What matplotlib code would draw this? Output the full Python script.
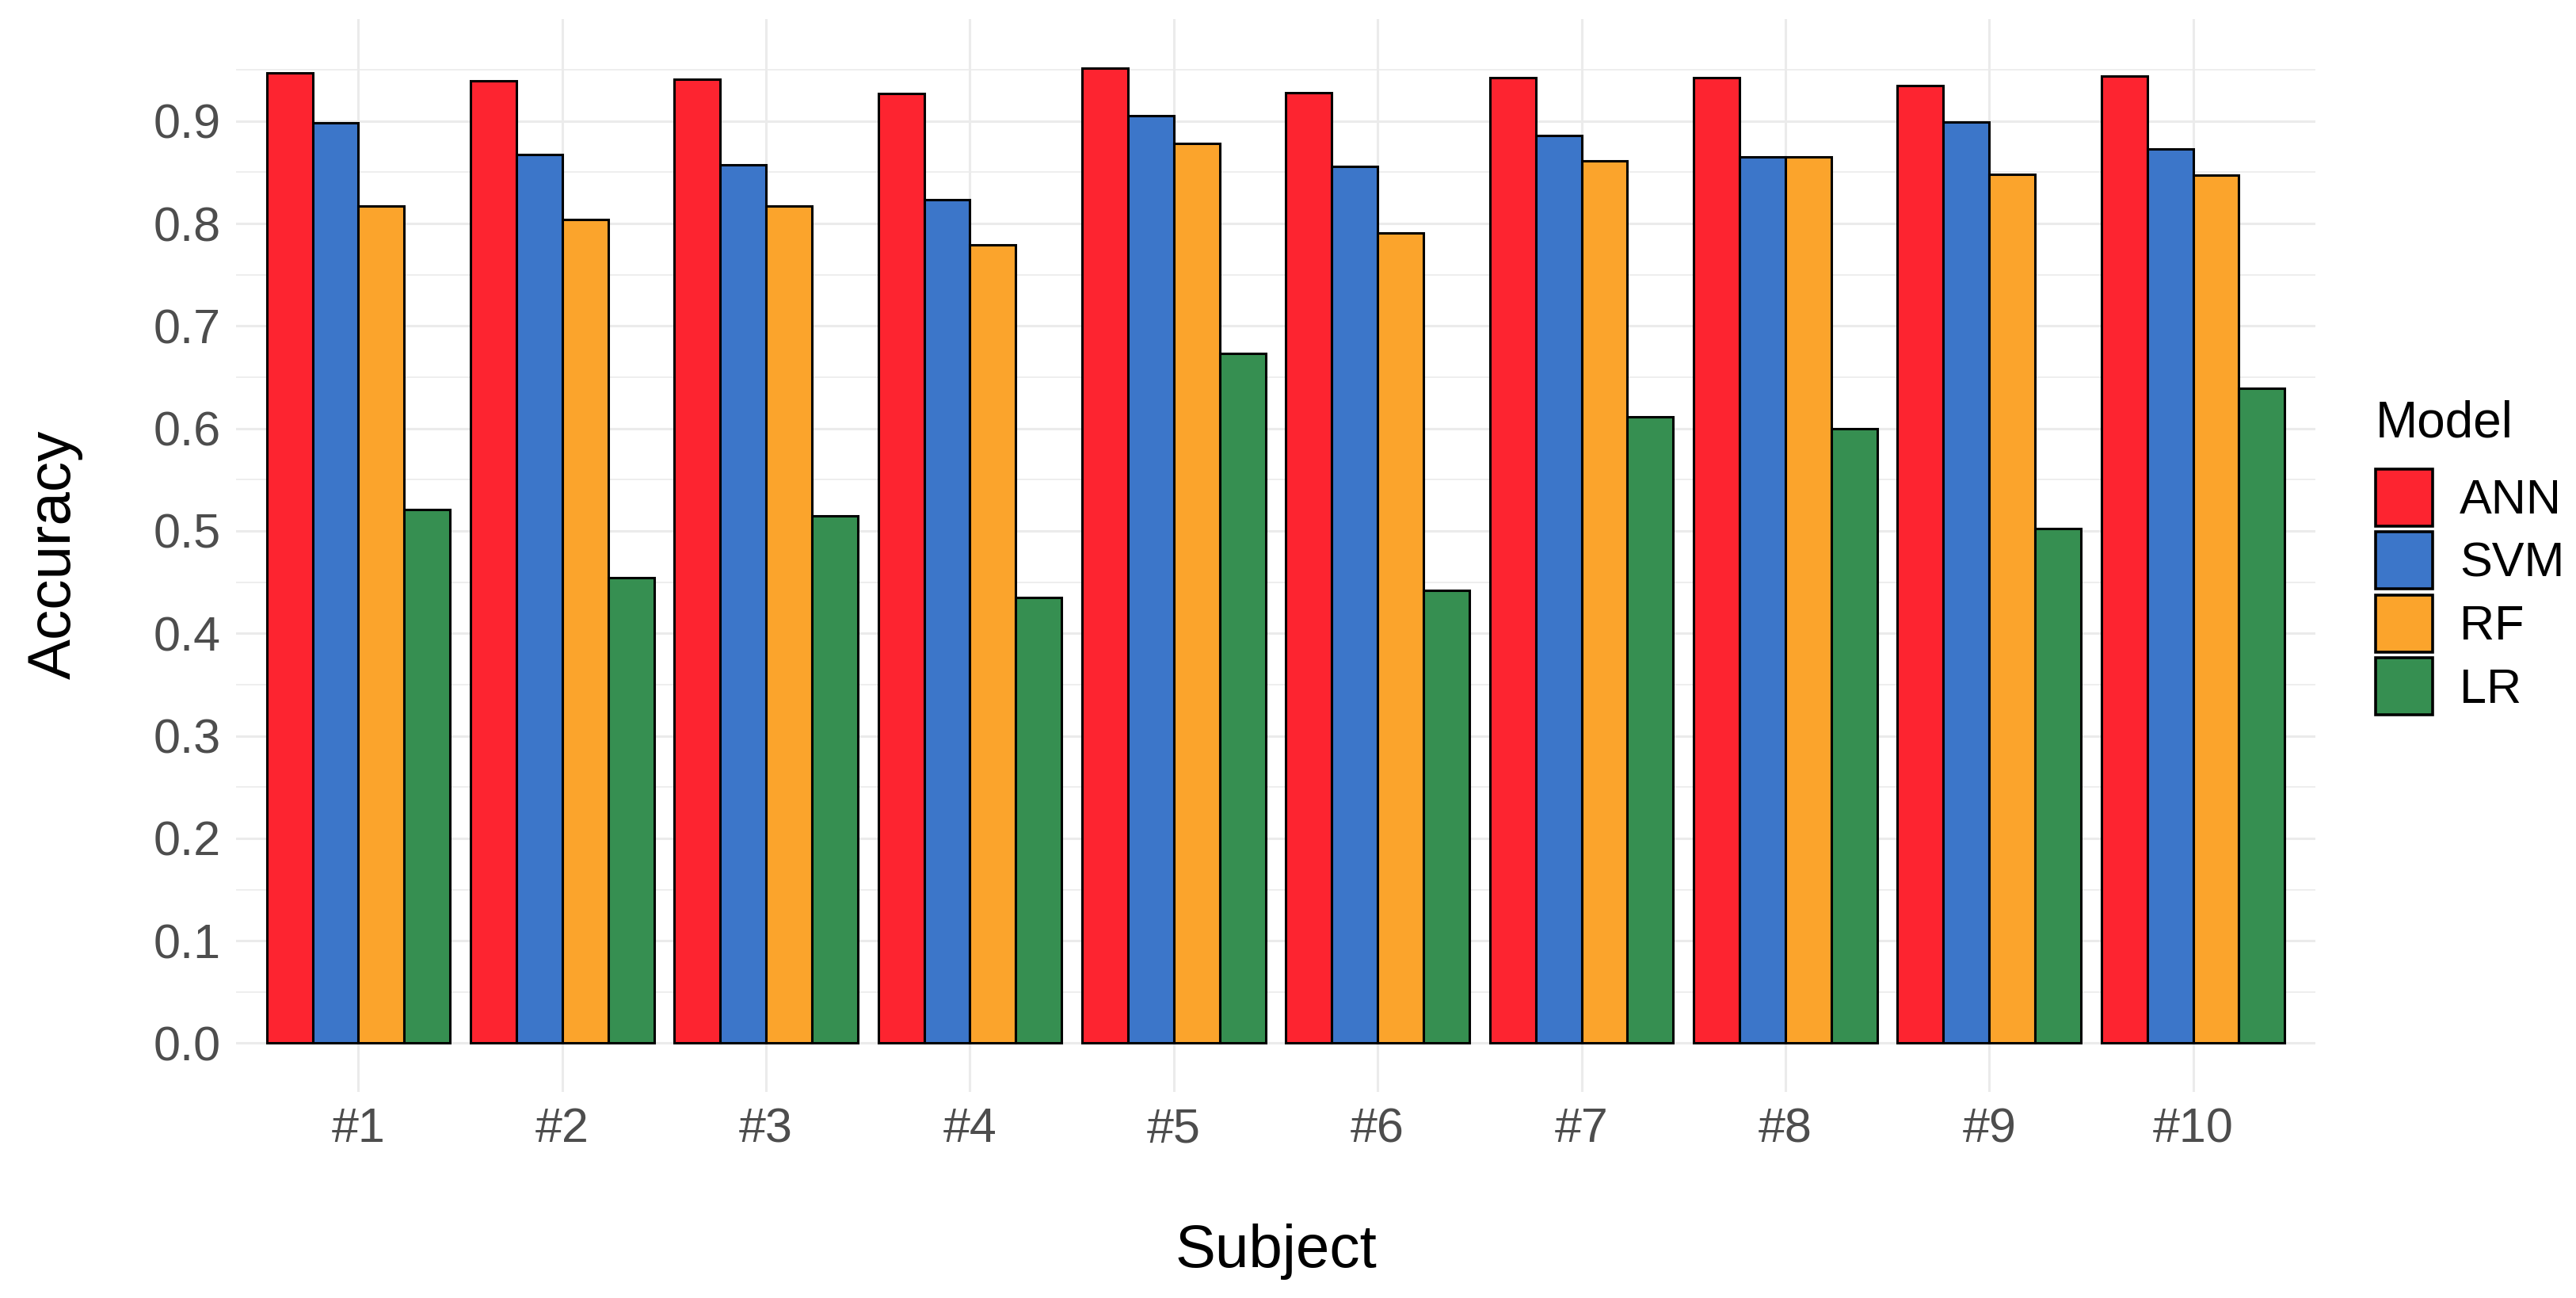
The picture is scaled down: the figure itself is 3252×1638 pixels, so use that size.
import matplotlib
matplotlib.use("Agg")
import matplotlib.pyplot as plt
import numpy as np
from matplotlib.patches import Patch
from matplotlib.ticker import MultipleLocator

subjects = ["#1", "#2", "#3", "#4", "#5", "#6", "#7", "#8", "#9", "#10"]
models = ["ANN", "SVM", "RF", "LR"]
ann = [0.947, 0.939, 0.941, 0.927, 0.952, 0.928, 0.942, 0.942, 0.935, 0.944]
svm = [0.898, 0.867, 0.857, 0.823, 0.905, 0.856, 0.886, 0.865, 0.899, 0.873]
rf = [0.817, 0.804, 0.817, 0.779, 0.878, 0.791, 0.861, 0.865, 0.848, 0.847]
lr = [0.521, 0.454, 0.515, 0.435, 0.673, 0.442, 0.611, 0.600, 0.502, 0.639]
colors = ["#FD2430", "#3C76C9", "#FBA42C", "#368F51"]

plt.rcParams['font.family'] = ['Liberation Sans', 'DejaVu Sans']

W, H = 3252, 1638
dpi = 200
fig = plt.figure(figsize=(W / dpi, H / dpi), dpi=dpi)
fig.patch.set_facecolor("white")

left, right, bottom, top = 298, 2923, 1378, 24
ax = fig.add_axes([left / W, 1 - bottom / H, (right - left) / W, (bottom - top) / H])

series = [ann, svm, rf, lr]
x = np.arange(1, len(subjects) + 1)
bw = 0.9 / 4
for i, (vals, c) in enumerate(zip(series, colors)):
    ax.bar(x - 0.45 + bw * (i + 0.5), vals, width=bw, color=c, edgecolor="black",
           linewidth=1.1, zorder=3)

ax.set_xlim(0.4, len(subjects) + 0.6)
ax.set_ylim(-0.0476, 0.9996)
ax.set_xticks(x)
ax.set_xticklabels(subjects)
ax.set_yticks(np.round(np.arange(0, 1.0, 0.1), 1))
ax.set_yticklabels([f"{v:.1f}" for v in np.arange(0, 1.0, 0.1)])
ax.yaxis.set_minor_locator(MultipleLocator(0.05))
ax.grid(which="major", axis="both", color="#EBEBEB", linewidth=1.1, zorder=0)
ax.grid(which="minor", axis="y", color="#EBEBEB", linewidth=0.6, zorder=0)
ax.tick_params(which="both", length=0)
ax.tick_params(axis="both", labelsize=22, labelcolor="#4D4D4D")
ax.tick_params(axis="x", pad=7)
ax.tick_params(axis="y", pad=7)
for s in ax.spines.values():
    s.set_visible(False)
ax.set_axisbelow(True)

fig.text(69 / W, 1 - 700 / H, "Accuracy", rotation=90, ha="center", va="center",
         fontsize=27.5, color="black")
fig.text(1611 / W, 1 - 1599 / H, "Subject", ha="center", va="baseline",
         fontsize=27.5, color="black")

# legend
fig.text(2999 / W, 1 - 552 / H, "Model", ha="left", va="baseline", fontsize=23, color="black")
fs = 22
fpx = fs * dpi / 72.0
key = 72.0
hl = key / fpx
hh = (key / fpx - 0.245) / 0.65
handles = [Patch(facecolor=c, edgecolor="black", linewidth=1.3) for c in colors]
leg = fig.legend(handles, models, loc="center left", bbox_to_anchor=(2999 / W, 1 - 747 / H),
                 frameon=False, fontsize=fs,
                 handlelength=hl, handleheight=hh, labelspacing=7.5 / fpx,
                 handletextpad=34 / fpx, borderpad=0, borderaxespad=0)

fig.savefig("out.png", dpi=dpi, facecolor="white")
